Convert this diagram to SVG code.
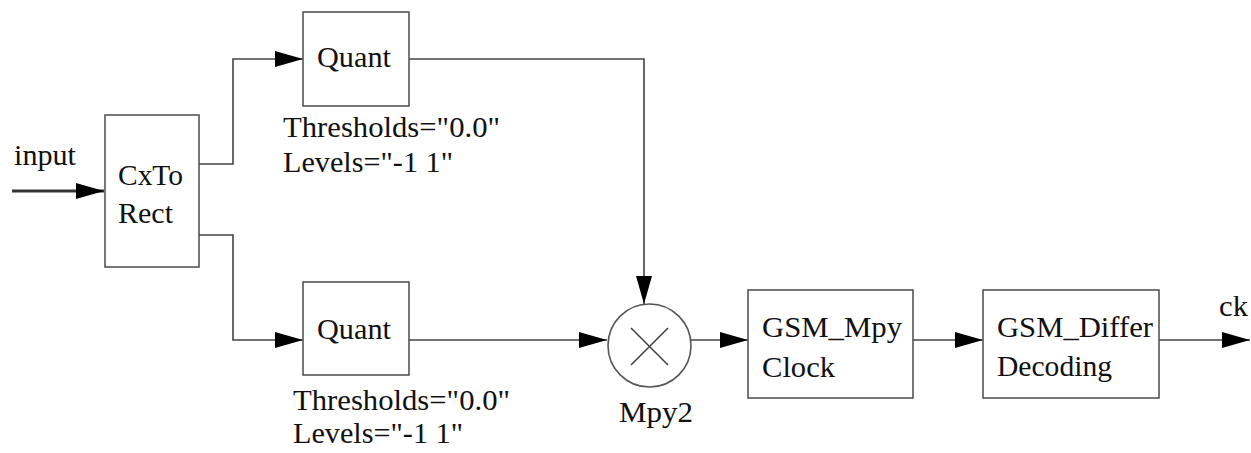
<svg xmlns="http://www.w3.org/2000/svg" width="1251" height="453" viewBox="0 0 1251 453">
<style>
text{font-family:"Liberation Serif","Times New Roman",serif;font-size:30px;fill:#111}
.box{fill:#fff;stroke:#555;stroke-width:1.6}
.ln{fill:none;stroke:#444;stroke-width:1.6}
.thick{fill:none;stroke:#333;stroke-width:3}
</style>
<defs>
<marker id="ah" markerUnits="userSpaceOnUse" markerWidth="28" markerHeight="16" refX="28" refY="8" orient="auto" viewBox="0 0 28 16">
<polygon points="0,0 28,8 0,16" fill="#000"/>
</marker>
</defs>
<rect width="1251" height="453" fill="#fff"/>
<g id="connectors">
<path class="thick" d="M12,191 H104" marker-end="url(#ah)"/>
<path class="ln" d="M199,164 H233 V59 H303" marker-end="url(#ah)"/>
<path class="ln" d="M199,235 H233 V340 H303" marker-end="url(#ah)"/>
<path class="ln" d="M409,59 H644 V304" marker-end="url(#ah)"/>
<path class="ln" d="M409,340 H607" marker-end="url(#ah)"/>
<path class="ln" d="M691,340 H748" marker-end="url(#ah)"/>
<path class="ln" d="M913,340 H983" marker-end="url(#ah)"/>
<path class="ln" d="M1159,340 H1250" marker-end="url(#ah)"/>
</g>
<g id="input-label">
<text x="14" y="165" textLength="62" lengthAdjust="spacingAndGlyphs">input</text>
</g>
<g id="cxtorect">
<rect class="box" x="105" y="115" width="94" height="152"/>
<text x="118" y="185" textLength="65" lengthAdjust="spacingAndGlyphs">CxTo</text>
<text x="118" y="223" textLength="55" lengthAdjust="spacingAndGlyphs">Rect</text>
</g>
<g id="quant1">
<rect class="box" x="303" y="12" width="106" height="94"/>
<text x="317" y="67" textLength="74" lengthAdjust="spacingAndGlyphs">Quant</text>
<text x="283" y="137" textLength="217" lengthAdjust="spacingAndGlyphs">Thresholds="0.0"</text>
<text x="283" y="172" textLength="170" lengthAdjust="spacingAndGlyphs">Levels="-1 1"</text>
</g>
<g id="quant2">
<rect class="box" x="303" y="282" width="106" height="93"/>
<text x="317" y="339" textLength="74" lengthAdjust="spacingAndGlyphs">Quant</text>
<text x="293" y="410" textLength="217" lengthAdjust="spacingAndGlyphs">Thresholds="0.0"</text>
<text x="293" y="443" textLength="170" lengthAdjust="spacingAndGlyphs">Levels="-1 1"</text>
</g>
<g id="mpy2">
<circle class="box" cx="649.5" cy="345.5" r="41.5"/>
<path class="ln" d="M631,328 L668,365 M668,328 L631,365"/>
<text x="619" y="422" textLength="74" lengthAdjust="spacingAndGlyphs">Mpy2</text>
</g>
<g id="gsm-mpyclock">
<rect class="box" x="748" y="290" width="165" height="108"/>
<text x="762" y="337" textLength="140" lengthAdjust="spacingAndGlyphs">GSM_Mpy</text>
<text x="762" y="377" textLength="73" lengthAdjust="spacingAndGlyphs">Clock</text>
</g>
<g id="gsm-differdecoding">
<rect class="box" x="983" y="290" width="176" height="108"/>
<text x="997" y="337" textLength="156" lengthAdjust="spacingAndGlyphs">GSM_Differ</text>
<text x="997" y="376" textLength="115" lengthAdjust="spacingAndGlyphs">Decoding</text>
</g>
<g id="output-label">
<text x="1219" y="316" textLength="29" lengthAdjust="spacingAndGlyphs">ck</text>
</g>
</svg>
